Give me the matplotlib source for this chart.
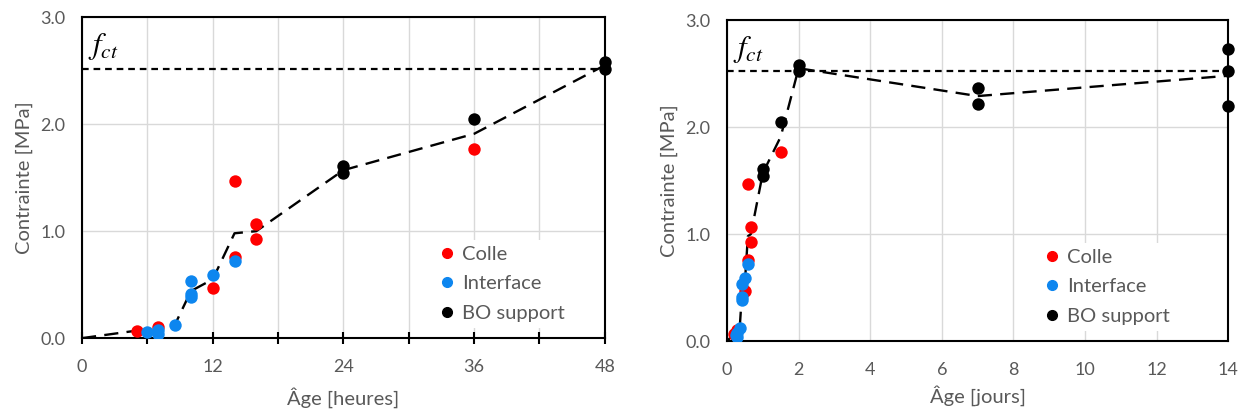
import matplotlib
matplotlib.use('Agg')
import matplotlib.pyplot as plt
from matplotlib.lines import Line2D

plt.rcParams['font.family'] = ['Lato', 'DejaVu Sans']
plt.rcParams['mathtext.fontset'] = 'stix'

# data (ages in hours)
colle_h = [5, 7, 12, 14, 14, 16, 16, 36]
colle_mpa = [0.07, 0.10, 0.47, 1.47, 0.76, 1.07, 0.93, 1.77]

interface_h = [6, 7, 7, 8.5, 10, 10, 10, 12, 14]
interface_mpa = [0.06, 0.08, 0.04, 0.12, 0.53, 0.41, 0.38, 0.59, 0.72]

bo_h = [24, 24, 36, 48, 48]
bo_mpa = [1.61, 1.54, 2.05, 2.58, 2.52]

# extra BO support points, long term (days)
bo_extra_d = [7, 7, 14, 14, 14]
bo_extra_mpa = [2.37, 2.22, 2.73, 2.52, 2.20]

# trend line (dashed)
trend_h = [0, 5, 6, 7, 8.5, 10, 12, 14, 16, 24, 36, 48]
trend_mpa = [0, 0.07, 0.06, 0.07, 0.12, 0.44, 0.55, 0.98, 1.0, 1.57, 1.91, 2.55]
trend_extra_d = [7, 14]
trend_extra_mpa = [2.29, 2.48]

fct = 2.52

RED = '#ff0000'
BLUE = '#0d86ef'
GREY = '#595959'


def draw(ax, cx, cy, ix, iy, bx, by, tx, ty, xmax, leg_x):
    ax.grid(True, color='#d9d9d9', lw=1.0)
    ax.set_axisbelow(True)
    ax.axhline(fct, color='black', ls=(0, (3, 2.2)), lw=1.6, zorder=2)
    ax.plot(tx, ty, color='black', ls=(0, (6, 3.5)), lw=1.7, zorder=3)
    ax.scatter(cx, cy, s=80, color=RED, zorder=4, linewidths=0)
    ax.scatter(ix, iy, s=80, color=BLUE, zorder=5, linewidths=0)
    ax.scatter(bx, by, s=80, color='black', zorder=6, linewidths=0, clip_on=False)
    ax.set_xlim(0, xmax)
    ax.set_ylim(0, 3.0)
    ax.set_yticks([0, 1, 2, 3])
    ax.set_yticklabels(['0.0', '1.0', '2.0', '3.0'])
    ax.tick_params(axis='y', length=0, pad=12, labelsize=13, labelcolor=GREY)
    ax.set_ylabel('Contrainte [MPa]', fontsize=14.5, color=GREY, labelpad=5)
    ax.text(0.012, 0.885, r'$f_{ct}$', transform=ax.transAxes, fontsize=22,
            color='black')
    for s in ax.spines.values():
        s.set_linewidth(1.5)
        s.set_color('black')
    handles = [
        Line2D([], [], ls='', marker='o', ms=7, color=RED, label='Colle'),
        Line2D([], [], ls='', marker='o', ms=7, color=BLUE, label='Interface'),
        Line2D([], [], ls='', marker='o', ms=7, color='black', label='BO support'),
    ]
    leg = ax.legend(handles=handles, loc='lower right', bbox_to_anchor=(leg_x, 0.0),
                    frameon=True, framealpha=1, edgecolor='none', fontsize=14.5,
                    handlelength=0.6, handletextpad=0.45, labelspacing=0.62,
                    borderpad=0.3)
    for t in leg.get_texts():
        t.set_color(GREY)


fig = plt.figure(figsize=(12.47, 4.19), dpi=100)

# left panel : hours
ax1 = fig.add_axes([0.0658, 0.193, 0.4192, 0.766])
draw(ax1, colle_h, colle_mpa, interface_h, interface_mpa, bo_h, bo_mpa,
     trend_h, trend_mpa, 48, 0.955)
ax1.set_xticks(range(0, 49, 6))
ax1.set_xticklabels(['0', '', '12', '', '24', '', '36', '', '48'])
ax1.tick_params(axis='x', direction='inout', length=8, width=1.5, pad=11,
                labelsize=13, labelcolor=GREY)
ax1.set_xlabel('Âge [heures]', fontsize=14.5, color=GREY, labelpad=9)

# right panel : days
to_d = lambda v: [h / 24 for h in v]
ax2 = fig.add_axes([0.583, 0.186, 0.402, 0.766])
draw(ax2, to_d(colle_h), colle_mpa, to_d(interface_h), interface_mpa,
     to_d(bo_h) + bo_extra_d, bo_mpa + bo_extra_mpa,
     to_d(trend_h) + trend_extra_d, trend_mpa + trend_extra_mpa, 14, 0.915)
ax2.set_xticks(range(0, 15, 2))
ax2.tick_params(axis='x', length=0, pad=15, labelsize=13, labelcolor=GREY)
ax2.set_xlabel('Âge [jours]', fontsize=14.5, color=GREY, labelpad=5)

fig.savefig('out.png', dpi=100)
